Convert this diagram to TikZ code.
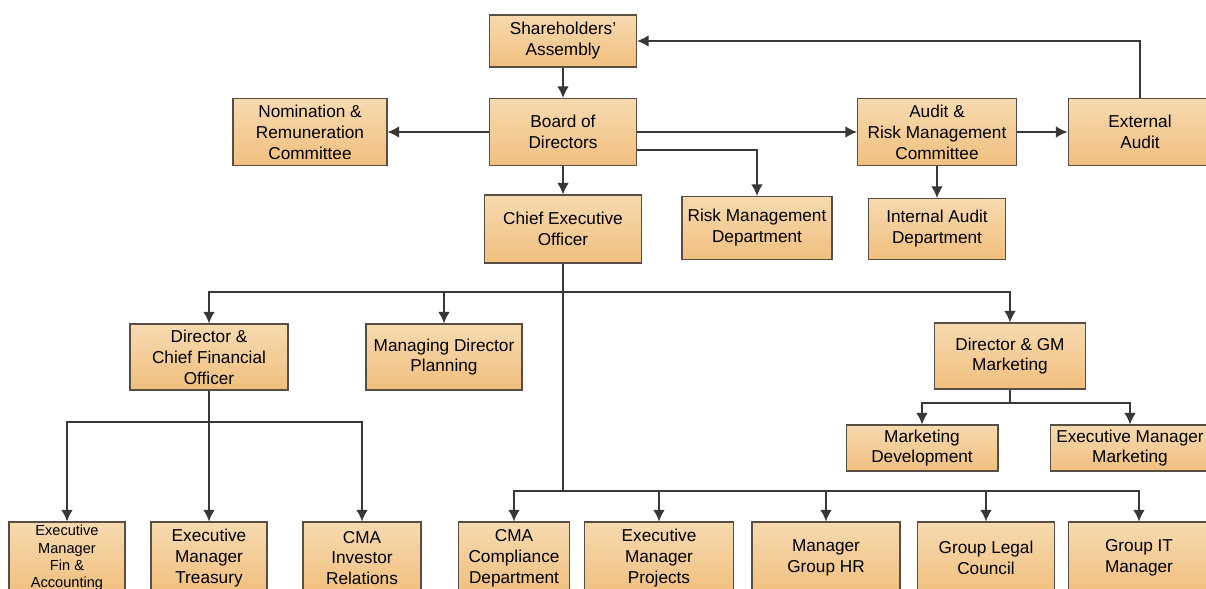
\documentclass[tikz,border=0pt]{standalone}
\usepackage{fontspec}
\setmainfont{Liberation Sans}
\usepackage{tikz}
\usetikzlibrary{shapes,arrows.meta,positioning}
\definecolor{boxtop}{RGB}{247,218,176}
\definecolor{boxbot}{RGB}{240,191,126}
\definecolor{boxline}{RGB}{88,78,68}
\definecolor{wire}{RGB}{58,56,54}
\tikzstyle{box} = [rectangle, draw=boxline, line width=0.6pt, top color=boxtop, bottom color=boxbot, align=center, inner sep=1pt, font=\fontsize{9.8}{11.9}\selectfont]
\tikzstyle{line} = [draw=wire, line width=0.85pt, -{Latex[length=6.6pt,width=6.6pt]}]
\tikzstyle{wire} = [draw=wire, line width=0.85pt]
\tikzstyle{trunk} = [draw=wire, line width=1.2pt]

\begin{document}
\begin{tikzpicture}[x=0.02cm, y=-0.02cm]
	\useasboundingbox (0,0) rectangle (1206,588);
	\clip (0,0) rectangle (1206,588);
	% top levels
	\node [box, minimum width=2.94cm, minimum height=1.04cm] (sa) at (563,41) {Shareholders’\\Assembly};
	\node [box, minimum width=2.94cm, minimum height=1.34cm] (bod) at (563,132) {Board of\\Directors};
	\node [box, minimum width=3.08cm, minimum height=1.34cm] (nom) at (310,132) {Nomination \&\\Remuneration\\Committee};
	\node [box, minimum width=3.18cm, minimum height=1.34cm] (arm) at (937,132) {Audit \&\\Risk Management\\Committee};
	\node [box, minimum width=2.88cm, minimum height=1.34cm] (ext) at (1140,132) {External\\Audit};
	\node [box, minimum width=3.14cm, minimum height=1.36cm] (ceo) at (563,229) {Chief Executive\\Officer};
	\node [box, minimum width=3.00cm, minimum height=1.26cm] (rmd) at (757,228) {Risk Management\\Department};
	\node [box, minimum width=2.74cm, minimum height=1.22cm] (iad) at (937,229) {Internal Audit\\Department};
	% directors
	\node [box, minimum width=3.16cm, minimum height=1.32cm] (cfo) at (209,357) {Director \&\\Chief Financial\\Officer};
	\node [box, minimum width=3.12cm, minimum height=1.32cm] (mdp) at (444,357) {Managing Director\\Planning};
	\node [box, minimum width=3.02cm, minimum height=1.32cm] (dgm) at (1010,356) {Director \& GM\\Marketing};
	\node [box, minimum width=3.04cm, minimum height=0.92cm] (mkd) at (922,448) {Marketing\\Development};
	\node [box, minimum width=3.20cm, minimum height=0.92cm] (emm) at (1130,448) {Executive Manager\\Marketing};
	% bottom row
	\node [box, minimum width=2.32cm, minimum height=1.44cm, font=\fontsize{8.3}{9.9}\selectfont] (efa) at (67,558) {Executive\\Manager\\Fin \&\\Accounting};
	\node [box, minimum width=2.32cm, minimum height=1.44cm] (emt) at (209,558) {Executive\\Manager\\Treasury};
	\node [box, minimum width=2.36cm, minimum height=1.44cm] (cir) at (362,558) {CMA\\Investor\\Relations};
	\node [box, minimum width=2.22cm, minimum height=1.44cm] (ccd) at (514,558) {CMA\\Compliance\\Department};
	\node [box, minimum width=2.98cm, minimum height=1.44cm] (emp) at (659,558) {Executive\\Manager\\Projects};
	\node [box, minimum width=2.96cm, minimum height=1.44cm] (mhr) at (826,558) {Manager\\Group HR};
	\node [box, minimum width=2.74cm, minimum height=1.44cm] (glc) at (986,558) {Group Legal\\Council};
	\node [box, minimum width=2.84cm, minimum height=1.44cm] (git) at (1139,558) {Group IT\\Manager};

	\coordinate (ceoj) at (563,292);
	\coordinate (ceob) at (563,491);
	\coordinate (cfoj) at (209,422);
	\coordinate (dgmj) at (1010,403);

	\path [line] (sa) -- (bod);
	\path [line] (bod) -- (nom);
	\path [line] (bod) -- (arm);
	\path [line] (arm) -- (ext);
	\path [line] (ext) |- (sa);
	\path [line] ([yshift=-0.36cm]bod.east) -| (rmd);
	\path [line] (arm) -- (iad);
	\path [line] (bod) -- (ceo);

	\path [trunk] (ceo) -- (ceob);
	\path [line] (ceoj) -| (cfo);
	\path [line] (ceoj) -| (mdp);
	\path [line] (ceoj) -| (dgm);

	\path [wire] (cfo) -- (cfoj);
	\path [line] (cfoj) -| (efa);
	\path [line] (cfoj) -| (emt);
	\path [line] (cfoj) -| (cir);

	\path [wire] (dgm) -- (dgmj);
	\path [line] (dgmj) -| (mkd);
	\path [line] (dgmj) -| (emm);

	\path [line] (ceob) -| (ccd);
	\path [line] (ceob) -| (emp);
	\path [line] (ceob) -| (mhr);
	\path [line] (ceob) -| (glc);
	\path [line] (ceob) -| (git);
\end{tikzpicture}
\end{document}
